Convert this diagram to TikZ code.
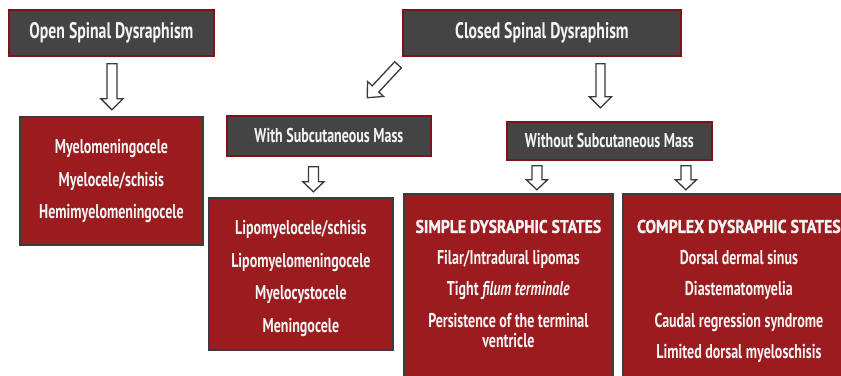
\documentclass[tikz,border=0pt]{standalone}
\usepackage{fontspec}
\setmainfont{PT Sans}[FakeStretch=0.7, UprightFont={* Bold}, ItalicFont={* Bold Italic},
  BoldFont={* Bold}, BoldItalicFont={* Bold Italic}]
\newfontfamily\titlefont{PT Sans}[FakeStretch=0.86, UprightFont={* Bold}, UprightFeatures={FakeBold=1.2}]
\usetikzlibrary{calc,shadows}
\definecolor{boxred}{HTML}{9B1B1F}
\definecolor{darkfill}{HTML}{444444}
\definecolor{redline}{HTML}{7E1418}
\definecolor{grayline}{HTML}{3C3C3C}
\definecolor{arrowgray}{HTML}{3A3A3A}
\definecolor{textwhite}{HTML}{F4F4F4}
\begin{document}
\begin{tikzpicture}[x=1pt,y=-1pt,
  header/.style={draw=redline, line width=1.8pt, fill=darkfill, text=textwhite,
    inner sep=0pt, anchor=north west, font=\fontsize{22.5}{26}\selectfont,
    drop shadow={opacity=0.25, shadow xshift=1.2pt, shadow yshift=-1.2pt}},
  subheader/.style={header, font=\fontsize{20}{23}\selectfont},
  redbox/.style={draw=grayline, line width=1.8pt, fill=boxred, text=textwhite,
    inner sep=0pt, anchor=north west, font=\fontsize{20}{32.5}\selectfont,
    drop shadow={opacity=0.25, shadow xshift=1.2pt, shadow yshift=-1.2pt}},
  tallbox/.style={redbox, font=\fontsize{20}{31.5}\selectfont},
  arrowline/.style={draw=arrowgray, line width=1.3pt, fill=white, line join=miter},
  pics/barrow/.style n args={4}{code={
    \draw[arrowline] (-#2,0) -- (-#2,#1-#4) -- (-#3,#1-#4) -- (0,#1)
      -- (#3,#1-#4) -- (#2,#1-#4) -- (#2,0) -- cycle;}}
]
\useasboundingbox (0,0) rectangle (841,375);
\clip (0,0) rectangle (841,375);
\fill[white] (0,0) rectangle (841,375);

% top level
\node[header, minimum width=205pt, minimum height=46pt] (open) at (8,9) {Open Spinal Dysraphism};
\node[header, minimum width=278pt, minimum height=46pt] (closed) at (402,9) {Closed Spinal Dysraphism};

% second level
\node[redbox] (openlist) at (19,116) {\parbox[c][128pt][t]{183pt}{\centering\vspace*{22pt}%
  \rule{0pt}{15pt}Myelomeningocele\\Myelocele/schisis\\Hemimyelomeningocele}};
\node[subheader, minimum width=204pt, minimum height=40pt] (with) at (226,115) {With Subcutaneous Mass};
\node[subheader, minimum width=205pt, minimum height=38pt] (without) at (506,121) {Without Subcutaneous Mass};

% third level
\node[redbox] (withlist) at (208,197) {\parbox[c][152pt][t]{184pt}{\centering\vspace*{22pt}%
  \rule{0pt}{15pt}Lipomyelocele/schisis\\Lipomyelomeningocele\\Myelocystocele\\Meningocele}};
\node[tallbox] (simple) at (403,193) {\parbox[c][200pt][t]{209pt}{\centering\vspace*{24pt}%
  \rule{0pt}{15pt}{\titlefont\fontsize{18.2}{31.5}\selectfont SIMPLE DYSRAPHIC STATES}\\Filar/Intradural lipomas\\Tight \textit{filum terminale}\\
  Persistence of the terminal\\[-11.5pt]ventricle}};
\node[tallbox] (complex) at (622,193) {\parbox[c][200pt][t]{232pt}{\centering\vspace*{24pt}%
  \rule{0pt}{15pt}{\titlefont\fontsize{18.4}{31.5}\selectfont COMPLEX DYSRAPHIC STATES}\\Dorsal dermal sinus\\Diastematomyelia\\
  Caudal regression syndrome\\Limited dorsal myeloschisis}};

% block arrows
\pic at ($(open.south)+(0.5,7)$) {barrow={46}{5}{11}{11}};
\pic at ($(closed.south)+(58.5,7)$) {barrow={44}{4.5}{11}{11}};
\pic[rotate=-43] at ($(closed.south west)+(-4,8)$) {barrow={45}{4.5}{11}{12}};
\pic at ($(with.south)+(-15.5,10)$) {barrow={25}{5}{10.5}{10}};
\pic at ($(without.south)+(-72.5,5)$) {barrow={24}{5}{10.5}{10}};
\pic at ($(without.south)+(76.5,5)$) {barrow={24}{5}{10.5}{10}};
\end{tikzpicture}
\end{document}
